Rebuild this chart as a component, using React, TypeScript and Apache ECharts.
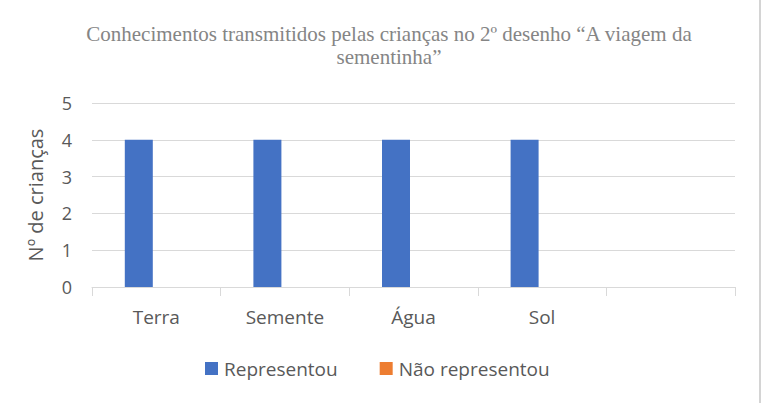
import React, { useEffect, useRef } from "react";
import * as echarts from "echarts";

const titleText = "Conhecimentos transmitidos pelas crianças no 2º desenho “A viagem da\nsementinha”";
const categories = ["Terra", "Semente", "Água", "Sol", ""];
const representou = [4, 4, 4, 4, 0];
const naoRepresentou = [0, 0, 0, 0, 0];
const yAxisName = "Nº de crianças";
const seriesNames = ["Representou", "Não representou"];

export default function App() {
  const ref = useRef<HTMLDivElement>(null);
  useEffect(() => {
    document.body.style.margin = "0";
    const chart = echarts.init(ref.current!, null, { renderer: "svg" });
    const font = "'Open Sans', 'Noto Sans', sans-serif";
    chart.setOption({
      animation: false,
      backgroundColor: "#ffffff",
      title: {
        text: titleText,
        left: 384,
        textAlign: "center",
        top: 17,
        textStyle: {
          fontFamily: "'Liberation Serif', 'DejaVu Serif', serif",
          fontSize: 21,
          fontWeight: "normal",
          color: "#858585",
          lineHeight: 23,
        },
      },
      legend: {
        data: seriesNames,
        left: 205,
        top: 359,
        padding: 0,
        icon: "rect",
        itemWidth: 13,
        itemHeight: 13,
        itemGap: 42,
        textStyle: { fontFamily: font, fontSize: 19, color: "#595959", padding: [0, 0, 0, 1] },
      },
      grid: { left: 92, right: 32, top: 103, bottom: 116, containLabel: false },
      xAxis: {
        type: "category",
        data: categories,
        axisLine: { show: true, lineStyle: { color: "#d9d9d9", width: 1 } },
        axisTick: { show: true, alignWithLabel: false, length: 9, lineStyle: { color: "#d9d9d9" } },
        axisLabel: { fontFamily: font, fontSize: 19, color: "#595959", margin: 20 },
      },
      yAxis: {
        type: "value",
        min: 0,
        max: 5,
        interval: 1,
        name: yAxisName,
        nameLocation: "middle",
        nameGap: 47,
        nameTextStyle: { fontFamily: font, fontSize: 20, color: "#595959" },
        axisLine: { show: false },
        axisTick: { show: false },
        axisLabel: { fontFamily: font, fontSize: 18, color: "#595959", margin: 20 },
        splitLine: { lineStyle: { color: "#d9d9d9", width: 1 } },
      },
      series: [
        {
          name: seriesNames[0],
          type: "bar",
          data: representou,
          barWidth: 28,
          barGap: "25%",
          itemStyle: { color: "#4472c4" },
        },
        {
          name: seriesNames[1],
          type: "bar",
          data: naoRepresentou,
          barWidth: 28,
          itemStyle: { color: "#ed7d31" },
        },
      ],
      graphic: [
        {
          type: "rect",
          shape: { x: 759, y: 0, width: 2, height: 403 },
          style: { fill: "#d4d4d4" },
        },
      ],
    });
    return () => chart.dispose();
  }, []);
  return <div ref={ref} style={{ width: 767, height: 403 }} />;
}
